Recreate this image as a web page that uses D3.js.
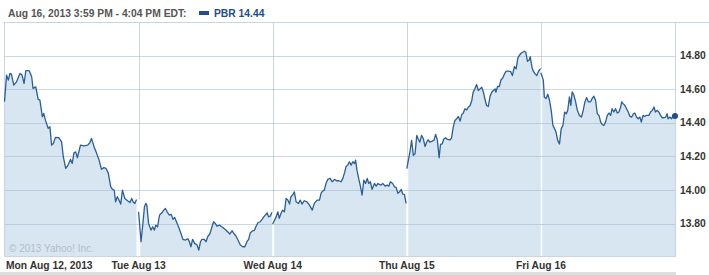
<!DOCTYPE html>
<html>
<head>
<meta charset="utf-8">
<script src="https://cdn.jsdelivr.net/npm/d3@7"></script>
<style>
  body { margin: 0; background: #fff; }
  svg { display: block; }
  text { font-family: "Liberation Sans", Arial, sans-serif; font-weight: bold; font-size: 10.3px; }
</style>
</head>
<body>
<svg id="chart"></svg>
<script>
// PBR intraday, Aug 12-16 2013
const dayLabels = ["Mon Aug 12, 2013", "Tue Aug 13", "Wed Aug 14", "Thu Aug 15", "Fri Aug 16"];
const yTicks = [13.8, 14.0, 14.2, 14.4, 14.6, 14.8];
const lastPrice = 14.44;

// [minutes after open, price]
const mon = [[0,14.525],[6,14.684],[11,14.654],[16,14.694],[20,14.69],[27,14.624],[35,14.644],[45,14.694],[51,14.684],[57,14.634],[62,14.71],[72,14.71],[79,14.674],[83,14.605],[91,14.614],[98,14.539],[103,14.535],[110,14.436],[114,14.456],[119,14.416],[127,14.367],[132,14.377],[137,14.267],[142,14.277],[148,14.313],[158,14.311],[166,14.287],[171,14.198],[178,14.129],[185,14.148],[192,14.182],[197,14.158],[202,14.221],[207,14.227],[212,14.192],[221,14.267],[231,14.263],[242,14.267],[248,14.281],[253,14.307],[261,14.254],[268,14.218],[275,14.178],[282,14.123],[289,14.133],[295,14.129],[302,14.099],[309,14.019],[314,14.004],[319,14.0],[323,13.93],[328,13.96],[333,13.94],[338,13.916],[343,13.999],[350,13.95],[358,13.936],[365,13.925],[370,13.95],[374,13.93],[379,13.92],[384,13.944]];
const tue = [[0,13.87],[7,13.692],[12,13.791],[17,13.9],[21,13.92],[24,13.91],[29,13.801],[36,13.761],[41,13.781],[46,13.761],[50,13.791],[55,13.781],[61,13.851],[68,13.864],[73,13.88],[78,13.89],[83,13.87],[89,13.851],[95,13.855],[100,13.825],[105,13.837],[110,13.811],[116,13.781],[123,13.742],[129,13.706],[136,13.702],[143,13.71],[147,13.696],[152,13.662],[157,13.706],[163,13.682],[170,13.672],[175,13.642],[180,13.692],[184,13.706],[191,13.706],[196,13.692],[201,13.722],[207,13.738],[212,13.771],[218,13.811],[223,13.801],[228,13.785],[236,13.791],[241,13.781],[245,13.777],[252,13.765],[259,13.751],[265,13.738],[272,13.757],[277,13.742],[283,13.726],[289,13.702],[296,13.672],[303,13.662],[309,13.662],[315,13.692],[320,13.706],[325,13.746],[332,13.757],[337,13.761],[341,13.781],[347,13.805],[354,13.811],[359,13.825],[364,13.84],[369,13.851],[374,13.864],[378,13.84],[383,13.845],[388,13.868]];
const wed = [[0,13.797],[10,13.84],[15,13.87],[19,13.831],[24,13.86],[29,13.88],[34,13.87],[39,13.95],[44,13.94],[49,13.916],[53,13.96],[58,13.97],[63,13.989],[68,13.93],[75,13.92],[80,13.94],[85,13.916],[92,13.936],[99,13.93],[107,13.91],[115,13.88],[121,13.92],[129,13.94],[136,13.94],[141,13.983],[146,13.995],[150,13.999],[155,14.039],[160,14.063],[167,14.069],[173,14.049],[180,14.063],[186,14.055],[192,14.055],[199,14.049],[204,14.069],[209,14.103],[213,14.138],[218,14.148],[223,14.168],[228,14.148],[233,14.168],[238,14.158],[241,14.178],[245,14.118],[250,14.069],[255,14.023],[260,13.97],[265,14.059],[270,14.039],[275,14.069],[279,14.039],[284,14.049],[289,14.004],[296,14.039],[301,14.023],[306,14.039],[310,14.033],[315,14.029],[320,14.039],[327,14.023],[333,14.029],[338,14.023],[342,14.049],[349,14.039],[354,14.019],[359,14.015],[364,13.98],[369,13.989],[374,14.004],[378,13.976],[383,13.974],[388,13.92]];
const thu = [[0,14.127],[9,14.226],[14,14.295],[19,14.206],[24,14.216],[29,14.325],[33,14.305],[38,14.285],[43,14.325],[48,14.305],[53,14.259],[58,14.285],[62,14.299],[67,14.285],[72,14.289],[79,14.295],[84,14.331],[89,14.295],[94,14.192],[98,14.271],[103,14.275],[108,14.305],[113,14.311],[118,14.301],[126,14.299],[130,14.309],[135,14.374],[140,14.414],[145,14.424],[150,14.438],[155,14.41],[160,14.45],[164,14.457],[169,14.483],[174,14.477],[179,14.493],[184,14.503],[189,14.533],[193,14.582],[198,14.602],[203,14.628],[208,14.592],[213,14.602],[218,14.612],[223,14.582],[227,14.543],[232,14.503],[237,14.497],[242,14.556],[247,14.582],[252,14.592],[257,14.602],[259,14.582],[264,14.616],[269,14.616],[274,14.655],[279,14.667],[284,14.691],[289,14.707],[295,14.707],[302,14.705],[307,14.681],[313,14.735],[318,14.721],[323,14.786],[327,14.8],[332,14.814],[337,14.82],[342,14.826],[346,14.82],[351,14.766],[356,14.774],[359,14.794],[364,14.731],[368,14.707],[373,14.691],[378,14.681],[383,14.707],[388,14.719],[390,14.719]];
const fri = [[0,14.698],[7,14.654],[10,14.554],[15,14.544],[20,14.57],[25,14.534],[30,14.474],[35,14.384],[40,14.364],[44,14.344],[49,14.294],[54,14.274],[59,14.364],[64,14.384],[69,14.464],[74,14.454],[78,14.474],[83,14.554],[87,14.504],[91,14.584],[96,14.564],[101,14.524],[106,14.474],[112,14.444],[118,14.434],[123,14.474],[128,14.524],[133,14.55],[138,14.524],[144,14.524],[149,14.544],[154,14.558],[159,14.534],[164,14.454],[169,14.444],[174,14.404],[178,14.39],[183,14.384],[188,14.404],[193,14.444],[198,14.458],[203,14.444],[207,14.484],[212,14.464],[217,14.484],[222,14.458],[227,14.464],[232,14.494],[235,14.524],[239,14.514],[244,14.504],[249,14.484],[254,14.464],[259,14.438],[264,14.434],[269,14.454],[273,14.458],[278,14.434],[283,14.424],[288,14.434],[292,14.404],[297,14.444],[301,14.438],[307,14.444],[314,14.444],[319,14.464],[324,14.474],[329,14.494],[333,14.464],[338,14.474],[343,14.464],[348,14.444],[353,14.43],[358,14.43],[363,14.434],[367,14.454],[370,14.424],[375,14.434],[380,14.424],[385,14.444],[390,14.44]];
const days = [mon, tue, wed, thu, fri];

const width = 709, height = 275;
const plotLeft = 4.5, plotRight = 675, plotTop = 22, plotBottom = 256;
const dayMinutes = 390;

const svg = d3.select("#chart").attr("width", width).attr("height", height);

const x = d3.scaleLinear().domain([0, days.length * dayMinutes]).range([plotLeft, plotRight]);
const y = d3.scaleLinear().domain([13.607, 15.0]).range([plotBottom, plotTop]);
const px = v => Math.round(v) + 0.5;

const gridColor = "#c9d5e0";

// vertical day lines under the fill
svg.append("g")
  .selectAll("line")
  .data(d3.range(1, days.length))
  .join("line")
    .attr("x1", d => px(x(d * dayMinutes))).attr("x2", d => px(x(d * dayMinutes)))
    .attr("y1", plotTop).attr("y2", plotBottom)
    .attr("stroke", gridColor);

const area = d3.area()
  .x(d => x(d[2] * dayMinutes + d[0]))
  .y0(plotBottom)
  .y1(d => y(d[1]));
const line = d3.line()
  .x(d => x(d[2] * dayMinutes + d[0]))
  .y(d => y(d[1]));

const series = days.map((pts, i) => pts.map(p => [p[0], p[1], i]));

svg.append("g")
  .selectAll("path")
  .data(series)
  .join("path")
    .attr("d", area)
    .attr("fill", "#d7e6f1");

// white gap between sessions inside the fill
svg.append("g")
  .selectAll("line")
  .data(d3.range(1, days.length))
  .join("line")
    .attr("x1", d => px(x(d * dayMinutes))).attr("x2", d => px(x(d * dayMinutes)))
    .attr("y1", d => Math.min(y(days[d - 1][days[d - 1].length - 1][1]), y(days[d][0][1])))
    .attr("y2", plotBottom)
    .attr("stroke", "#fff")
    .attr("stroke-width", 1.5);

// horizontal grid on top of fill
svg.append("g")
  .selectAll("line")
  .data(yTicks)
  .join("line")
    .attr("x1", plotLeft).attr("x2", plotRight)
    .attr("y1", d => px(y(d))).attr("y2", d => px(y(d)))
    .attr("stroke", "#9fb8cf")
    .attr("stroke-opacity", 0.55);

// frame
svg.append("line").attr("x1", 4).attr("x2", width).attr("y1", plotTop + 0.5).attr("y2", plotTop + 0.5).attr("stroke", gridColor);
svg.append("line").attr("x1", 4.5).attr("x2", 4.5).attr("y1", plotTop).attr("y2", plotBottom).attr("stroke", gridColor);
svg.append("line").attr("x1", px(plotRight)).attr("x2", px(plotRight)).attr("y1", plotTop).attr("y2", plotBottom).attr("stroke", gridColor);
svg.append("line").attr("x1", 4).attr("x2", plotRight + 1).attr("y1", plotBottom + 0.5).attr("y2", plotBottom + 0.5).attr("stroke", gridColor);

svg.append("g")
  .selectAll("path")
  .data(series)
  .join("path")
    .attr("d", line)
    .attr("fill", "none")
    .attr("stroke", "#2a5e97")
    .attr("stroke-width", 1.3)
    .attr("stroke-linejoin", "round");

const lastPt = fri[fri.length - 1];
svg.append("circle")
  .attr("cx", x(4 * dayMinutes + lastPt[0]))
  .attr("cy", y(lastPrice))
  .attr("r", 3)
  .attr("fill", "#1f4f8a");

svg.append("text")
  .attr("x", 9).attr("y", 252)
  .attr("fill", "#b3bec8")
  .style("font-weight", "normal")
  .style("font-size", "10px")
  .text("\u00a9 2013 Yahoo! Inc.");

// right axis labels
svg.append("g")
  .selectAll("text")
  .data(yTicks)
  .join("text")
    .attr("x", 680)
    .attr("y", d => y(d))
    .attr("dy", "0.36em")
    .attr("fill", "#333")
    .text(d => d.toFixed(2));

// day labels
svg.append("g")
  .selectAll("text")
  .data(dayLabels)
  .join("text")
    .attr("x", (d, i) => i === 0 ? 6 : x(i * dayMinutes))
    .attr("y", 269)
    .attr("text-anchor", (d, i) => i === 0 ? "start" : "middle")
    .attr("fill", "#333")
    .text(d => d);

svg.append("rect").attr("x", 0).attr("y", 272).attr("width", plotRight + 1).attr("height", 3).attr("fill", "#dedede");

// header
svg.append("text")
  .attr("x", 8).attr("y", 17)
  .attr("fill", "#555")
  .text("Aug 16, 2013 3:59 PM - 4:04 PM EDT:");
svg.append("rect").attr("x", 199).attr("y", 11).attr("width", 10).attr("height", 4).attr("fill", "#1f4f8a");
svg.append("text")
  .attr("x", 214).attr("y", 17)
  .attr("fill", "#1d4e89")
  .text("PBR " + lastPrice.toFixed(2));
</script>
</body>
</html>
